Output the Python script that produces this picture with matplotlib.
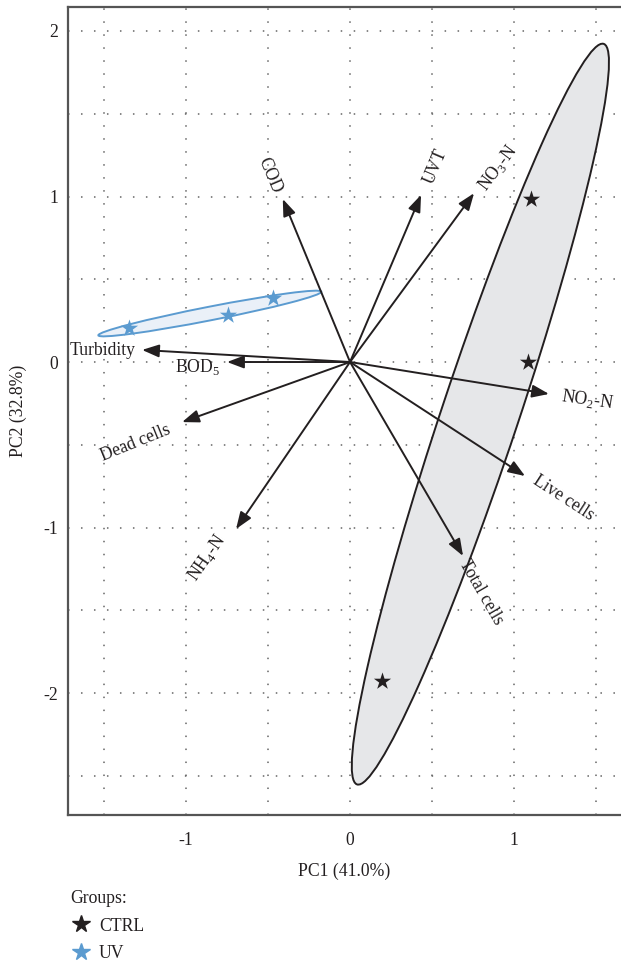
import numpy as np
import matplotlib.pyplot as plt
from matplotlib.patches import Ellipse, FancyArrowPatch
from matplotlib.lines import Line2D

plt.rcParams['font.family'] = ['Liberation Serif', 'DejaVu Serif']
plt.rcParams['mathtext.fontset'] = 'custom'
plt.rcParams['mathtext.rm'] = 'Liberation Serif'
plt.rcParams['axes.unicode_minus'] = False

# loadings (arrow tips)
var_names = ['COD', 'UVT', 'NO$_3$-N', 'NO$_2$-N', 'Live cells', 'Total cells',
             'NH$_4$-N', 'Dead cells', 'BOD$_5$', 'Turbidity']
var_x = [-0.41, 0.433, 0.756, 1.213, 1.067, 0.689, -0.695, -1.024, -0.75, -1.268]
var_y = [0.985, 1.01, 1.02, -0.193, -0.689, -1.172, -1.009, -0.363, 0.0, 0.073]
# label placement
lab_x = [-0.49, 0.52, 0.90, 1.445, 1.30, 0.80, -0.87, -1.31, -0.93, -1.51]
lab_y = [1.13, 1.18, 1.17, -0.23, -0.82, -1.39, -1.18, -0.49, -0.03, 0.07]
lab_rot = [-67, 67, 53, -8, -33, -60, 55, 22, 0, 0]

# scores
ctrl_x = [1.104, 1.085, 0.195]
ctrl_y = [0.985, 0.0, -1.93]
uv_x = [-1.35, -0.744, -0.47]
uv_y = [0.207, 0.283, 0.389]

ink = '#231f20'
blue = '#5b9bd0'
fs = 12.7


def conf_ellipse(x, y, prob=0.68, **kw):
    pts = np.column_stack([x, y])
    mu = pts.mean(axis=0)
    cov = np.cov(pts, rowvar=False)
    vals, vecs = np.linalg.eigh(cov)
    r = np.sqrt(-2 * np.log(1 - prob))
    ang = np.degrees(np.arctan2(vecs[1, 1], vecs[0, 1]))
    return Ellipse(mu, 2 * r * np.sqrt(vals[1]), 2 * r * np.sqrt(vals[0]),
                   angle=ang, **kw)


fig = plt.figure(figsize=(6.21, 9.66), dpi=100)
ax = fig.add_axes([68 / 621, 1 - 815 / 966, 1 - 68 / 621, 808 / 966])
ax.set_xlim(-1.7195, 1.652)
ax.set_ylim(-2.737, 2.145)

ax.set_xticks([-1.5, -0.5, 0.5, 1.5], minor=True)
ax.set_yticks([-2.5, -1.5, -0.5, 0.5, 1.5], minor=True)
ax.set_xticks([-1, 0, 1])
ax.set_yticks([-2, -1, 0, 1, 2])
ax.grid(True, which='both', color='#666666', linestyle=(0, (1, 7.5)), linewidth=1.1)
ax.set_axisbelow(True)
ax.tick_params(which='both', length=0, labelsize=fs, colors=ink)
ax.tick_params(axis='x', pad=12)
ax.tick_params(axis='y', pad=7)

for s in ['left', 'bottom', 'top']:
    ax.spines[s].set_color('#555555')
    ax.spines[s].set_linewidth(1.6)
ax.spines['right'].set_visible(False)

ax.add_patch(conf_ellipse(ctrl_x, ctrl_y, facecolor='#e6e7e9', edgecolor=ink,
                          linewidth=1.4, zorder=1))
ax.add_patch(conf_ellipse(uv_x, uv_y, facecolor='#eaf0f8', edgecolor=blue,
                          linewidth=1.4, zorder=1))

for i in range(len(var_names)):
    arr = FancyArrowPatch((0, 0), (var_x[i], var_y[i]),
                          arrowstyle='-|>,head_length=0.85,head_width=0.32',
                          color=ink, linewidth=1.4, shrinkA=0, shrinkB=0,
                          mutation_scale=12, zorder=3)
    ax.add_patch(arr)
    ax.text(lab_x[i], lab_y[i], var_names[i], rotation=lab_rot[i],
            ha='center', va='center', fontsize=fs, color=ink, zorder=4)

ax.scatter(ctrl_x, ctrl_y, marker='*', s=170, color=ink, zorder=5, linewidths=0)
ax.scatter(uv_x, uv_y, marker='*', s=170, color=blue, zorder=5, linewidths=0)

ax.set_xlabel('PC1 (41.0%)', fontsize=fs, color=ink, labelpad=10)
ax.set_ylabel('PC2 (32.8%)', fontsize=fs, color=ink, labelpad=12)

handles = [Line2D([], [], marker='*', linestyle='none', color=ink, markersize=13),
           Line2D([], [], marker='*', linestyle='none', color=blue, markersize=13)]
leg = fig.legend(handles, ['CTRL', 'UV'], title='Groups:', loc='upper left',
                 bbox_to_anchor=(60 / 621, 1 - 879 / 966), frameon=False,
                 fontsize=fs, title_fontsize=fs, labelspacing=0.62,
                 handletextpad=0.4, handlelength=1.2, alignment='left',
                 borderaxespad=0.2)
for t in leg.get_texts():
    t.set_color(ink)
leg.get_title().set_color(ink)

fig.savefig('out.png', dpi=100)
